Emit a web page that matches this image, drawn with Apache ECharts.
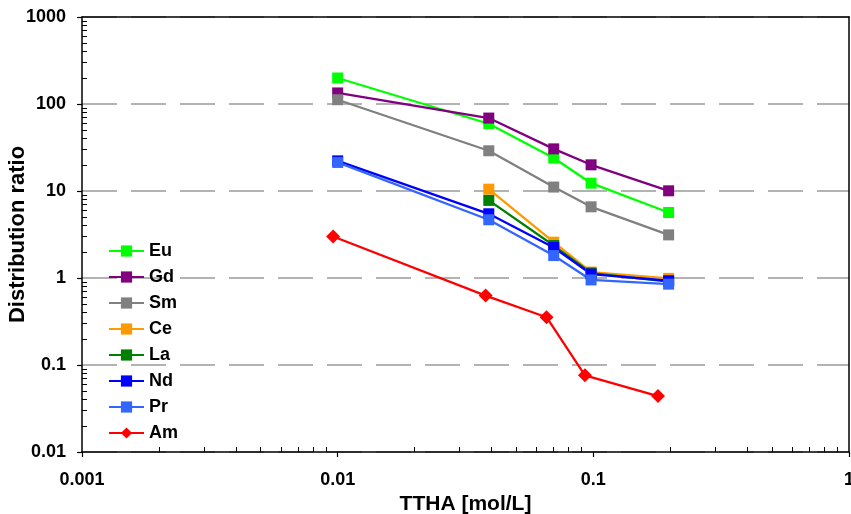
<!DOCTYPE html>
<html>
<head>
<meta charset="utf-8">
<script src="https://cdn.jsdelivr.net/npm/echarts@6/dist/echarts.min.js"></script>
<style>
  html, body { margin: 0; padding: 0; background: #ffffff; }
  #chart { width: 851px; height: 514px; }
</style>
</head>
<body>
<div id="chart"></div>
<script>
// TTHA concentrations [mol/L] for the lanthanide runs and the Am run
const tthaLn = [0.01, 0.039, 0.07, 0.098, 0.197];
const tthaAm = [0.0096, 0.0379, 0.0656, 0.0927, 0.179];

// Distribution ratios (null = not measured)
const eu = [199, 59.3, 23.9, 12.3, 5.66];
const gd = [134, 68.9, 30.5, 20.0, 10.05];
const sm = [112, 29.0, 11.1, 6.58, 3.13];
const ce = [null, 10.5, 2.58, 1.17, 0.99];
const la = [null, 7.8, 2.36, 1.14, 0.91];
const nd = [22.2, 5.47, 2.24, 1.11, 0.93];
const pr = [21.3, 4.67, 1.81, 0.95, 0.85];
const am = [3.0, 0.628, 0.354, 0.0762, 0.044];

// Decade tick labels
const xTickLabels = ['0.001', '0.01', '0.1', '1'];
const yTickLabels = ['0.01', '0.1', '1', '10', '100', '1000'];

const xTicks = xTickLabels.map(Number);
const yTicks = yTickLabels.map(Number);

// Minor ticks 2..9 within each decade
function minorTicks(decades) {
  const out = [];
  for (let i = 0; i < decades.length - 1; i++) {
    for (let k = 2; k <= 9; k++) out.push(Number((k * decades[i]).toPrecision(6)));
  }
  return out;
}
const xMinor = minorTicks(xTicks);
const yMinor = minorTicks(yTicks);

const FONT = "'Liberation Sans', Arial, Helvetica, sans-serif";

function pairs(xs, ys) {
  const out = [];
  ys.forEach((v, i) => { if (v !== null) out.push([xs[i], v]); });
  return out;
}

function lineSeries(name, color, xs, ys, symbol, size) {
  return {
    name: name,
    type: 'line',
    data: pairs(xs, ys),
    symbol: symbol,
    symbolSize: size,
    showSymbol: true,
    animation: false,
    lineStyle: { color: color, width: 2.3 },
    itemStyle: { color: color, borderWidth: 0 },
    z: 2
  };
}

const labelFmt = (labels, values) => (v) => {
  let best = 0;
  values.forEach((t, i) => {
    if (Math.abs(Math.log10(t) - Math.log10(v)) < Math.abs(Math.log10(values[best]) - Math.log10(v))) best = i;
  });
  return labels[best];
};

const chart = echarts.init(document.getElementById('chart'), null, { renderer: 'canvas' });

chart.setOption({
  backgroundColor: '#ffffff',
  animation: false,
  grid: { left: 82, right: 2, top: 17, bottom: 62, containLabel: false, outerBoundsMode: 'none' },
  legend: {
    orient: 'vertical',
    left: 108,
    top: 242,
    padding: 0,
    itemWidth: 35,
    itemHeight: 14,
    itemGap: 8,
    textStyle: { fontFamily: FONT, fontWeight: 'bold', fontSize: 18, color: '#000', lineHeight: 18 },
    data: ['Eu', 'Gd', 'Sm', 'Ce', 'La', 'Nd', 'Pr', 'Am']
  },
  xAxis: [
    {
      type: 'log', logBase: 10, min: 0.001, max: 1,
      position: 'bottom', z: 3,
      axisLine: { show: true, onZero: false, lineStyle: { color: '#000', width: 1.5 } },
      axisTick: { show: true, inside: false, length: 5, customValues: xTicks, lineStyle: { color: '#000', width: 1.2 } },
      axisLabel: { customValues: xTicks, formatter: labelFmt(xTickLabels, xTicks), margin: 19,
        fontFamily: FONT, fontWeight: 'bold', fontSize: 18, color: '#000' },
      splitLine: { show: false },
      name: 'TTHA [mol/L]', nameLocation: 'middle', nameGap: 42, nameMoveOverlap: false,
      nameTextStyle: { fontFamily: FONT, fontWeight: 'bold', fontSize: 21, color: '#000' }
    },
    {
      type: 'log', logBase: 10, min: 0.001, max: 1,
      position: 'bottom', z: 3,
      axisLine: { show: false, onZero: false },
      axisTick: { show: true, inside: true, length: 5, customValues: xMinor, lineStyle: { color: '#000', width: 1 } },
      axisLabel: { show: false },
      splitLine: { show: false }
    },
    {
      type: 'value', min: 0, max: 1, position: 'top', z: 3,
      axisLine: { show: true, onZero: false, lineStyle: { color: '#000', width: 1.5 } },
      axisTick: { show: false }, axisLabel: { show: false }, splitLine: { show: false }
    }
  ],
  yAxis: [
    {
      type: 'log', logBase: 10, min: 0.01, max: 1000,
      position: 'left', z: 1,
      axisLine: { show: true, onZero: false, lineStyle: { color: '#000', width: 1.5 } },
      axisTick: { show: true, inside: false, length: 5, customValues: yTicks, lineStyle: { color: '#000', width: 1.2 } },
      axisLabel: { customValues: yTicks, formatter: labelFmt(yTickLabels, yTicks), margin: 16,
        fontFamily: FONT, fontWeight: 'bold', fontSize: 18, color: '#000' },
      splitLine: { show: true, lineStyle: { color: '#9a9a9a', width: 1.5, type: [35, 14] } },
      name: 'Distribution ratio', nameLocation: 'middle', nameRotate: 90, nameGap: 53, nameMoveOverlap: false,
      nameTextStyle: { fontFamily: FONT, fontWeight: 'bold', fontSize: 22, color: '#000' }
    },
    {
      type: 'log', logBase: 10, min: 0.01, max: 1000,
      position: 'left', z: 3,
      axisLine: { show: false, onZero: false },
      axisTick: { show: true, inside: true, length: 5, customValues: yMinor, lineStyle: { color: '#000', width: 1 } },
      axisLabel: { show: false },
      splitLine: { show: false }
    },
    {
      type: 'value', min: 0, max: 1, position: 'right', z: 3,
      axisLine: { show: true, onZero: false, lineStyle: { color: '#000', width: 1.5 } },
      axisTick: { show: false }, axisLabel: { show: false }, splitLine: { show: false }
    }
  ],
  series: [
    lineSeries('Eu', '#00ff00', tthaLn, eu, 'rect', 11),
    lineSeries('Gd', '#800080', tthaLn, gd, 'rect', 11),
    lineSeries('Sm', '#808080', tthaLn, sm, 'rect', 11),
    lineSeries('Ce', '#ff9900', tthaLn, ce, 'rect', 11),
    lineSeries('La', '#008000', tthaLn, la, 'rect', 11),
    lineSeries('Nd', '#0000ff', tthaLn, nd, 'rect', 11),
    lineSeries('Pr', '#3366ff', tthaLn, pr, 'rect', 11),
    lineSeries('Am', '#ff0000', tthaAm, am, 'diamond', 14)
  ]
});
</script>
</body>
</html>
